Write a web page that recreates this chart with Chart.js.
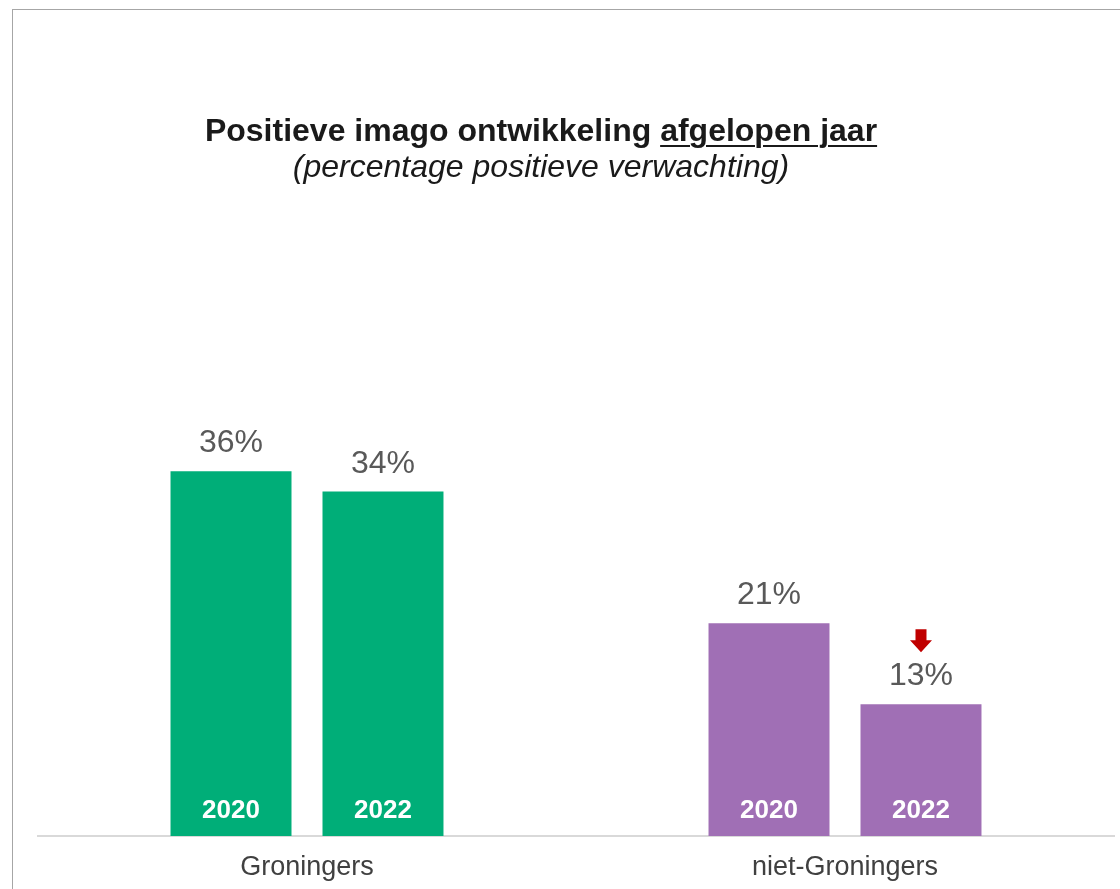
<!DOCTYPE html>
<html>
<head>
<meta charset="utf-8">
<script src="https://cdn.jsdelivr.net/npm/chart.js@4/dist/chart.umd.min.js"></script>
<style>
  html, body { margin: 0; padding: 0; background: #fff; overflow: hidden; }
  #frame { position: absolute; left: 12px; top: 9px; width: 1200px; height: 1000px;
           border-top: 1px solid #a6a6a6; border-left: 1px solid #a6a6a6; }
  #wrap { position: absolute; left: 0; top: 0; width: 1120px; height: 889px; }
  .titel { position: absolute; left: 0; width: 1082px; text-align: center;
           font-family: 'Liberation Sans', Arial, sans-serif; font-size: 32px; line-height: 36px; color: #1a1a1a; }
  #t1 { top: 112px; font-weight: bold; }
  #t1 u { text-decoration-thickness: 2px; text-underline-offset: 4px; }
  #t2 { top: 148px; font-style: italic; }
</style>
</head>
<body>
<div id="frame"></div>
<div id="wrap"><canvas id="chart"></canvas></div>
<div class="titel" id="t1">Positieve imago ontwikkeling <u>afgelopen jaar</u></div>
<div class="titel" id="t2">(percentage positieve verwachting)</div>
<script>
// Gegevens
const categorieen = ['Groningers', 'niet-Groningers'];
const jaren = ['2020', '2022'];
const waarden2020 = [36, 21];
const waarden2022 = [34, 13];
// significante daling t.o.v. vorige meting
const dalingen2022 = [false, true];
const kleuren = ['#00AE78', '#A06FB5'];

const fontFamily = "'Liberation Sans', Arial, sans-serif";

// Labels boven en in de staven + pijltje
const labelPlugin = {
  id: 'labels',
  afterDatasetsDraw(chart) {
    const ctx = chart.ctx;
    chart.data.datasets.forEach((ds, d) => {
      const meta = chart.getDatasetMeta(d);
      meta.data.forEach((bar, i) => {
        ctx.save();
        ctx.textAlign = 'center';
        ctx.textBaseline = 'alphabetic';
        ctx.fillStyle = '#595959';
        ctx.font = '32px ' + fontFamily;
        ctx.fillText(ds.data[i] + '%', bar.x, bar.y - 19);

        ctx.fillStyle = '#ffffff';
        ctx.font = 'bold 26px ' + fontFamily;
        ctx.fillText(ds.label, bar.x, bar.base - 18);

        if (ds.dalingen && ds.dalingen[i]) {
          const top = bar.y - 75;
          ctx.fillStyle = '#C00000';
          ctx.beginPath();
          ctx.moveTo(bar.x - 5.5, top);
          ctx.lineTo(bar.x + 5.5, top);
          ctx.lineTo(bar.x + 5.5, top + 11);
          ctx.lineTo(bar.x + 11, top + 11);
          ctx.lineTo(bar.x, top + 23);
          ctx.lineTo(bar.x - 11, top + 11);
          ctx.lineTo(bar.x - 5.5, top + 11);
          ctx.closePath();
          ctx.fill();
        }
        ctx.restore();
      });
    });
  }
};

const ctx = document.getElementById('chart').getContext('2d');
const chart = new Chart(ctx, {
  type: 'bar',
  data: {
    labels: categorieen,
    datasets: [
      { label: jaren[0], data: waarden2020, backgroundColor: kleuren },
      { label: jaren[1], data: waarden2022, backgroundColor: kleuren, dalingen: dalingen2022 }
    ]
  },
  options: {
    responsive: true,
    maintainAspectRatio: false,
    animation: false,
    categoryPercentage: 0.565,
    barPercentage: 0.796,
    layout: { padding: { left: 38, right: 6, top: 329.5, bottom: 0 } },
    plugins: {
      legend: { display: false },
      tooltip: { enabled: false }
    },
    scales: {
      y: { display: false, min: 0, max: 50 },
      x: {
        grid: { display: false, drawTicks: false },
        border: { display: true, color: '#d9d9d9', width: 2 },
        ticks: {
          color: '#404040',
          padding: 18,
          font: { family: fontFamily, size: 27, lineHeight: 1 }
        },
        afterFit(scale) { scale.height = 53; }
      }
    }
  },
  plugins: [labelPlugin]
});
</script>
</body>
</html>
